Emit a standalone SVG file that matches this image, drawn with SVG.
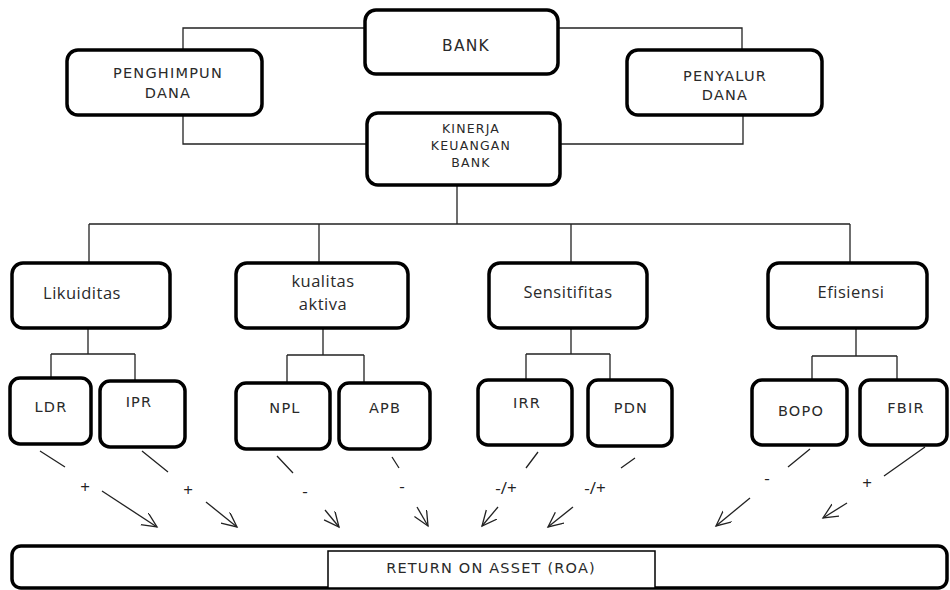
<svg xmlns="http://www.w3.org/2000/svg" width="950" height="590" viewBox="0 0 950 590">
<style>
.box{fill:#fff;stroke:#000;stroke-width:3.5}
.in{fill:#fff;stroke:#000;stroke-width:1.5}
.ln{fill:none;stroke:#222;stroke-width:1.3}
.ar{fill:none;stroke:#222;stroke-width:1.3;marker-end:url(#ah)}
.up{font-family:"DejaVu Sans",sans-serif;font-size:14.5px;letter-spacing:1.2px;fill:#2a2a2a;text-anchor:middle}
.lo{font-family:"Open Sans",sans-serif;font-size:16.5px;letter-spacing:0.5px;fill:#2a2a2a;text-anchor:middle}
.sg{font-family:"Open Sans",sans-serif;font-size:17px;fill:#222;text-anchor:middle}
</style>
<defs>
<marker id="ah" markerUnits="userSpaceOnUse" markerWidth="18" markerHeight="16" refX="15" refY="7" orient="auto" viewBox="0 0 18 16">
<path d="M0,0 L15,7 L0,14" fill="none" stroke="#222" stroke-width="1.3"/>
</marker>
</defs>
<g id="connectors">
<path class="ln" d="M183,50 V28 H365 M558,28 H742 V50 M183,115 V144 H367 M560,144 H743 V115"/>
<path class="ln" d="M457,185 V224 M89,224 H850 M89,224 V263 M319,224 V263 M571,224 V263 M850,224 V263"/>
<path class="ln" d="M88,328 V354 M51,354 H135 M51,354 V378 M135,354 V381"/>
<path class="ln" d="M323,328 V355 M287,355 H364 M287,355 V383 M364,355 V383"/>
<path class="ln" d="M571,328 V354 M526,354 H610 M526,354 V380 M610,354 V380"/>
<path class="ln" d="M856,328 V356 M812,356 H897 M812,356 V380 M897,356 V382"/>
<path class="ln" d="M40,451 L65,467 M142,451 L168,472 M277,456 L293,473 M392,457 L399,468 M538,452 L526,468 M635,458 L621,468 M810,449 L788,467 M925,447 L884,476"/>
<path class="ar" d="M102,491 L157,527"/>
<path class="ar" d="M206,502 L237,527"/>
<path class="ar" d="M325,510 L339,527"/>
<path class="ar" d="M417,507 L428,526"/>
<path class="ar" d="M498,507 L482,526"/>
<path class="ar" d="M573,507 L548,527"/>
<path class="ar" d="M750,498 L716,526"/>
<path class="ar" d="M847,503 L823,518"/>
<text class="sg" x="85" y="493">+</text>
<text class="sg" x="188" y="496">+</text>
<text class="sg" x="305" y="497">-</text>
<text class="sg" x="402" y="492">-</text>
<text class="sg" x="506" y="494">-/+</text>
<text class="sg" x="595" y="494">-/+</text>
<text class="sg" x="767" y="484">-</text>
<text class="sg" x="867" y="489">+</text>
</g>
<g id="bank"><rect class="box" x="365" y="10" width="193" height="64" rx="11"/><text class="up" x="466" y="51" style="font-size:15.5px">BANK</text></g>
<g id="penghimpun"><rect class="box" x="67" y="50" width="195" height="65" rx="11"/><text class="up" x="168" y="78">PENGHIMPUN</text><text class="up" x="168" y="98">DANA</text></g>
<g id="penyalur"><rect class="box" x="627" y="50" width="195" height="65" rx="11"/><text class="up" x="725" y="81">PENYALUR</text><text class="up" x="725" y="100">DANA</text></g>
<g id="kinerja"><rect class="box" x="367" y="113" width="193" height="72" rx="11"/><text class="up" x="471" y="133" style="font-size:12.5px">KINERJA</text><text class="up" x="471" y="150" style="font-size:12.5px">KEUANGAN</text><text class="up" x="471" y="167" style="font-size:12.5px">BANK</text></g>
<g id="likuiditas"><rect class="box" x="12" y="263" width="158" height="65" rx="11"/><text class="lo" x="82" y="299">Likuiditas</text></g>
<g id="kualitas"><rect class="box" x="236" y="263" width="172" height="65" rx="11"/><text class="lo" x="323" y="287">kualitas</text><text class="lo" x="323" y="310">aktiva</text></g>
<g id="sensitifitas"><rect class="box" x="489" y="263" width="158" height="65" rx="11"/><text class="lo" x="568" y="298">Sensitifitas</text></g>
<g id="efisiensi"><rect class="box" x="768" y="263" width="159" height="65" rx="11"/><text class="lo" x="851" y="298">Efisiensi</text></g>
<g id="ldr"><rect class="box" x="10" y="378" width="81" height="66" rx="10"/><text class="up" x="51" y="412">LDR</text></g>
<g id="ipr"><rect class="box" x="100" y="381" width="85" height="66" rx="10"/><text class="up" x="139" y="407">IPR</text></g>
<g id="npl"><rect class="box" x="236" y="383" width="94" height="66" rx="10"/><text class="up" x="285" y="413">NPL</text></g>
<g id="apb"><rect class="box" x="339" y="383" width="91" height="66" rx="10"/><text class="up" x="385" y="413">APB</text></g>
<g id="irr"><rect class="box" x="478" y="380" width="94" height="65" rx="10"/><text class="up" x="527" y="408">IRR</text></g>
<g id="pdn"><rect class="box" x="588" y="380" width="84" height="66" rx="10"/><text class="up" x="631" y="413">PDN</text></g>
<g id="bopo"><rect class="box" x="752" y="380" width="95" height="65" rx="10"/><text class="up" x="801" y="416">BOPO</text></g>
<g id="fbir"><rect class="box" x="860" y="380" width="87" height="65" rx="10"/><text class="up" x="906" y="413">FBIR</text></g>
<g id="roa"><rect class="box" x="12" y="546" width="935" height="42" rx="9"/><rect class="in" x="328" y="551" width="327" height="37"/><text class="up" x="491" y="573">RETURN ON ASSET (ROA)</text></g>
</svg>
